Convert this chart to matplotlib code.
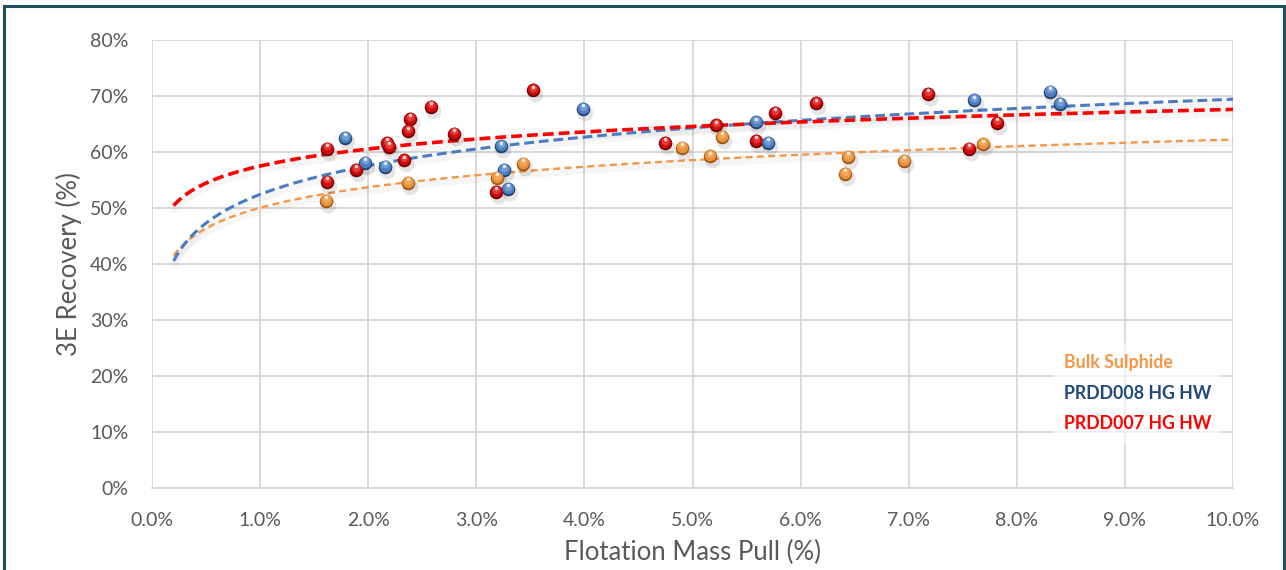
import numpy as np
import matplotlib
matplotlib.use("Agg")
import matplotlib.pyplot as plt
from matplotlib.lines import Line2D
from matplotlib.patches import Rectangle
from matplotlib.ticker import PercentFormatter, MultipleLocator
from matplotlib.transforms import offset_copy

plt.rcParams['font.family'] = ['Lato', 'DejaVu Sans']

# ---------------- data (in %) ----------------
series_names = ["Bulk Sulphide", "PRDD008 HG HW", "PRDD007 HG HW"]

bulk_x = [1.61, 2.37, 3.19, 3.43, 4.90, 5.16, 5.27, 6.41, 6.44, 6.96, 7.69]
bulk_y = [51.3, 54.5, 55.4, 57.9, 60.8, 59.2, 62.7, 56.1, 59.1, 58.4, 61.4]

p008_x = [1.79, 1.97, 2.16, 3.23, 3.26, 3.29, 3.99, 5.59, 5.70, 7.60, 8.31, 8.40]
p008_y = [62.5, 58.1, 57.4, 61.0, 56.8, 53.4, 67.7, 65.3, 61.6, 69.2, 70.8, 68.6]

p007_x = [1.62, 1.62, 1.89, 2.17, 2.19, 2.33, 2.37, 2.39, 2.58, 2.79, 3.18, 3.52,
          4.75, 5.22, 5.59, 5.76, 6.14, 7.18, 7.56, 7.82]
p007_y = [60.6, 54.7, 56.8, 61.6, 60.9, 58.5, 63.7, 65.9, 68.1, 63.3, 52.9, 71.0,
          61.6, 64.8, 62.0, 67.0, 68.7, 70.4, 60.6, 65.2]

trend_range = [0.2, 10.0]   # forecast range of the logarithmic trendlines

# ---------------- styles ----------------
W, H = 1286, 570
fig = plt.figure(figsize=(W / 100, H / 100), dpi=100)
fig.patch.set_facecolor("white")
ax = fig.add_axes([152 / W, 1 - 488 / H, (1233 - 152) / W, (488 - 40) / H])

grid_c = "#D9D9D9"
ax.set_xlim(0, 10)
ax.set_ylim(0, 80)
ax.xaxis.set_major_locator(MultipleLocator(1))
ax.yaxis.set_major_locator(MultipleLocator(10))
ax.xaxis.set_major_formatter(PercentFormatter(xmax=100, decimals=1))
ax.yaxis.set_major_formatter(PercentFormatter(xmax=100, decimals=0))
ax.grid(True, color=grid_c, lw=1.4, zorder=0)
ax.set_axisbelow(True)
for s in ax.spines.values():
    s.set_visible(False)
ax.spines['bottom'].set_visible(True)
ax.spines['bottom'].set_color(grid_c)
ax.spines['bottom'].set_linewidth(1.4)
ax.tick_params(length=0, labelsize=14, labelcolor="#595959")
ax.tick_params(axis='y', pad=17)
ax.tick_params(axis='x', pad=17)
ax.set_xlabel("Flotation Mass Pull (%)", fontsize=18.5, color="#595959", labelpad=8)
ax.set_ylabel("3E Recovery (%)", fontsize=18.5, color="#595959", labelpad=6)

styles = {
    "Bulk Sulphide": dict(base="#E8913A", dark="#9E5410", mid="#F4AE62",
                          line="#F79646", lw=1.7, dash=(3.0, 1.8)),
    "PRDD008 HG HW": dict(base="#4D80C0", dark="#1F3F6E", mid="#7FA6D8",
                          line="#4A7CC4", lw=2.2, dash=(3.2, 1.6)),
    "PRDD007 HG HW": dict(base="#D00A0A", dark="#6E0000", mid="#E94848",
                          line="#FF0000", lw=2.6, dash=(3.0, 1.4)),
}
data = {
    "Bulk Sulphide": (bulk_x, bulk_y),
    "PRDD008 HG HW": (p008_x, p008_y),
    "PRDD007 HG HW": (p007_x, p007_y),
}


def off(dx, dy):
    return offset_copy(ax.transData, fig=fig, x=dx, y=dy, units='dots')


# trendlines (logarithmic fit, as in the spreadsheet)
xt = np.linspace(trend_range[0], trend_range[1], 300)
for name in series_names:
    st = styles[name]
    xs, ys = data[name]
    b, a = np.polyfit(np.log(xs), ys, 1)
    yt = a + b * np.log(xt)
    ax.plot(xt, yt, color="#000000", alpha=0.035, lw=st['lw'] + 3,
            transform=off(1, -4), zorder=2, solid_capstyle='round')
    ax.plot(xt, yt, color=st['line'], lw=st['lw'], linestyle=(0, st['dash']),
            zorder=3)

# sphere-like markers
for name in ["PRDD007 HG HW", "Bulk Sulphide", "PRDD008 HG HW"]:
    st = styles[name]
    xs, ys = data[name]
    ax.scatter(xs, ys, s=130, color="#000000", alpha=0.10, lw=0,
               transform=off(2, -4), zorder=4)
    ax.scatter(xs, ys, s=95, color=st['dark'], lw=0, zorder=5)
    ax.scatter(xs, ys, s=72, color=st['base'], lw=0, transform=off(0, 1.0), zorder=6)
    ax.scatter(xs, ys, s=30, color=st['mid'], alpha=0.8, lw=0,
               transform=off(0, 2.2), zorder=7)
    ax.scatter(xs, ys, s=6, color="white", alpha=0.8, lw=0,
               transform=off(0, 3.6), zorder=8)

# legend (text only)
handles = [Line2D([], [], linestyle='none') for _ in series_names]
leg_colors = ["#F79646", "#1F497D", "#FF0000"]
leg = ax.legend(handles, series_names, loc='center', bbox_to_anchor=(0.912, 0.212),
                handlelength=0, handletextpad=0, labelspacing=0.78,
                frameon=True, framealpha=0.6, edgecolor='none', facecolor='white',
                prop=dict(family='Lato', weight='bold', size=12.8),
                borderpad=0.6, labelcolor=leg_colors)
leg.set_zorder(9)

# chart border
fig.patches.append(Rectangle((4 / W, -0.05), (1284 - 4) / W, 1.05 - 6 / H,
                             transform=fig.transFigure, fill=False,
                             edgecolor="#1F4E5F", lw=2.2))

fig.savefig("out.png", dpi=100)
